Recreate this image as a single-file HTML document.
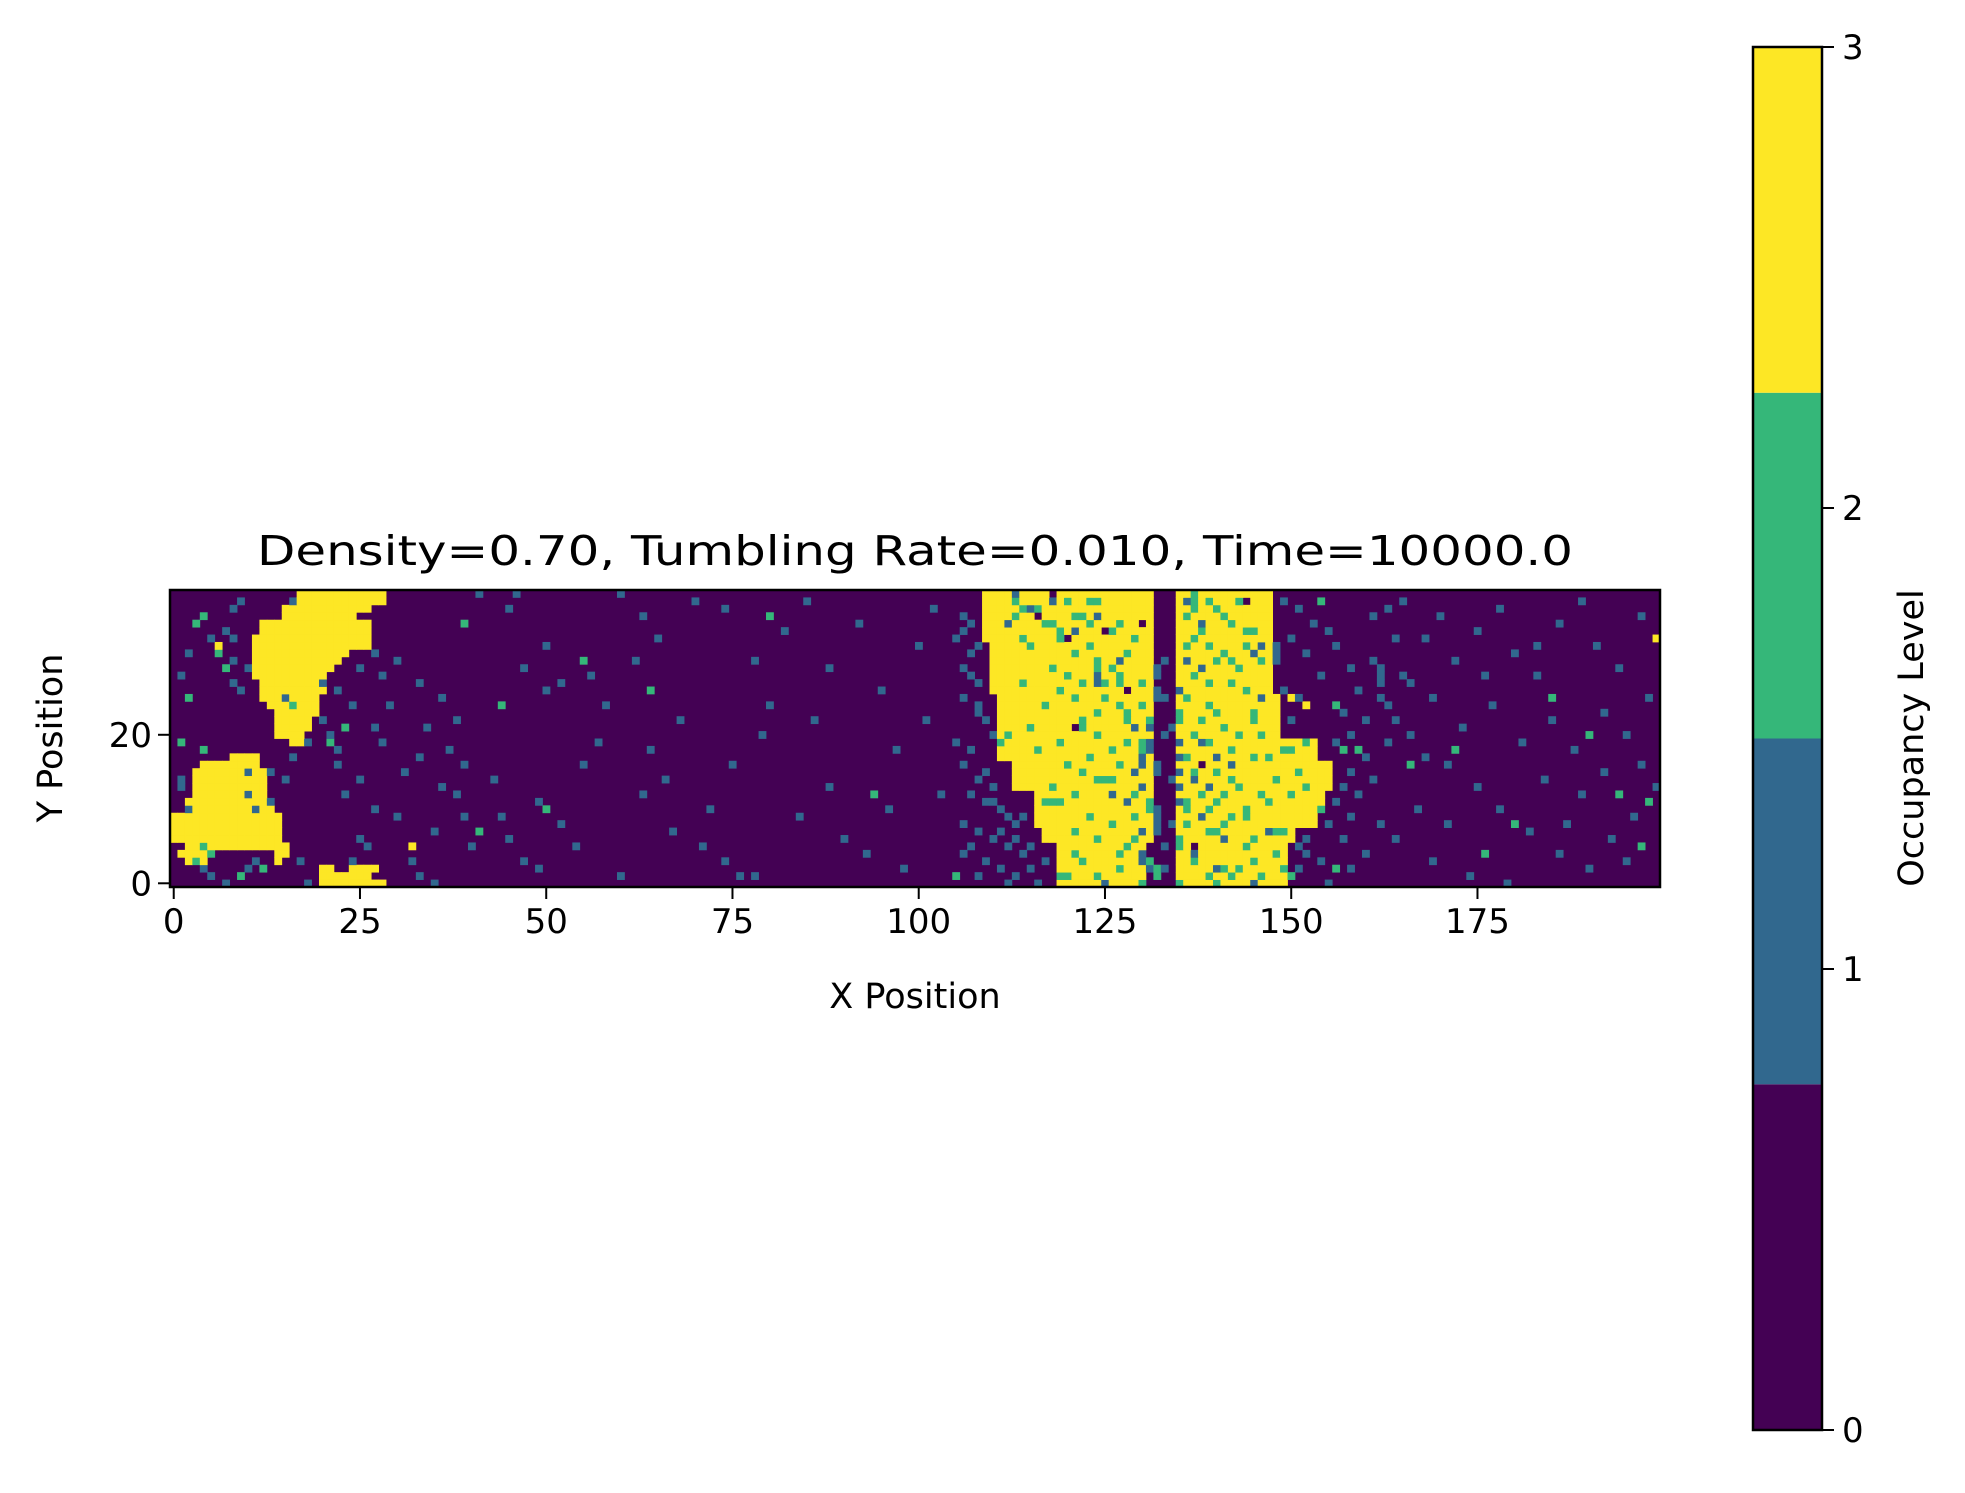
<!DOCTYPE html>
<html><head><meta charset="utf-8"><style>
html,body{margin:0;padding:0;background:#fff;}
svg text{font-family:"DejaVu Sans","Liberation Sans",sans-serif;fill:#000;}
</style></head><body>
<svg id="chart" width="1965" height="1488" viewBox="0 0 1965 1488" xmlns="http://www.w3.org/2000/svg">
<rect width="1965" height="1488" fill="#fff"/>
<text x="915" y="565" font-size="41" text-anchor="middle" textLength="1316" lengthAdjust="spacingAndGlyphs">Density=0.70, Tumbling Rate=0.010, Time=10000.0</text>
<g id="cells"></g>
<rect x="170" y="590" width="1490" height="297" fill="none" stroke="#000" stroke-width="2.5"/>
<g id="axes"></g>
<text x="915" y="1008" font-size="35" text-anchor="middle">X Position</text>
<text transform="translate(62,738) rotate(-90)" font-size="35" text-anchor="middle">Y Position</text>
<g id="cbar"></g>
<text transform="translate(1923,738) rotate(-90)" font-size="35" text-anchor="middle">Occupancy Level</text>
</svg>
<script>
const NX = 200, NY = 40;
const xTicks = [0,25,50,75,100,125,150,175];
const yTicks = [0,20];
const cbarTicks = [0,1,2,3];
const palette = ["#440154","#31688e","#35b779","#fde725"];
// yellow spans [y, x0, x1]
const yellowSpans = [
[17,8,11],[16,4,11],[15,3,12],[14,3,12],[13,3,12],[12,3,12],[11,2,13],[10,2,13],[9,0,14],[8,0,14],[7,0,14],[6,0,14],[5,2,15],[4,14,15],[3,14,14],[4,1,5],[3,2,4],
[2,20,21],[2,24,27],[1,20,26],[0,20,28],
[39,17,28],[38,16,28],[37,15,26],[36,15,24],[35,12,26],[34,12,26],[33,11,26],[32,11,26],[31,11,23],[30,11,22],[29,11,21],[28,11,20],[27,12,20],[26,12,20],[25,12,19],[24,13,19],[23,14,19],[22,14,18],[21,14,18],[20,14,17],[19,16,17]
];
// row groups for the two right bands: [yTop, yBottom, cx0, cx1, dx0, dx1]
const bandRows = [
[39,33,109,131,135,147],[32,26,110,131,135,147],[25,20,111,131,135,148],[19,17,111,131,135,153],
[16,13,113,131,135,155],[12,10,116,131,135,154],[9,8,116,131,135,153],[7,6,117,131,135,150],[5,0,119,130,135,149]
];
const blueCells = [
[113,38],[113,39],[115,37],[118,38],[124,36],[121,34],[112,35],[136,38],[138,35],[145,31],[146,32],[148,31],[148,32],[127,30],[124,27],[124,28],[132,28],[132,29],[132,26],[132,25],[133,25],[135,26],[136,30],[138,29],[146,25],[129,21],[131,21],[134,21],[131,19],[131,18],[130,17],[130,16],[129,15],[132,16],[132,15],[135,19],[135,17],[135,15],[135,13],[137,14],[140,17],[138,19],[142,16],[126,12],[128,11],[130,13],[132,10],[132,9],[132,8],[132,7],[135,11],[134,8],[138,9],[139,13],[130,3],[130,4],[130,7],[131,2],[133,2],[137,4],[140,2],[141,6],[145,0],[125,0],[147,7],[133,30],[133,20],[134,14],[133,5],
[106,36],[107,35],[105,33],[106,34],[107,31],[108,32],[106,29],[107,28],[108,27],[106,25],[108,24],[108,23],[109,22],[105,19],[107,18],[110,20],[106,16],[109,15],[108,14],[110,13],[107,12],[109,11],[111,10],[112,9],[106,8],[108,7],[111,7],[113,8],[110,6],[107,5],[112,5],[114,4],[106,4],[109,3],[111,2],[115,2],[108,1],[113,1],[112,0],[116,0],[117,3],[115,5],[114,9],[113,6],[110,11],
[149,38],[151,37],[153,35],[150,33],[155,34],[156,32],[152,31],[148,30],[158,29],[154,28],[149,26],[151,25],[159,26],[157,23],[150,22],[158,20],[156,19],[160,17],[158,15],[157,13],[159,12],[156,11],[158,9],[155,8],[152,6],[157,6],[151,5],[152,4],[154,3],[151,2],[150,1],[155,0],[158,2],[160,4],[162,8],[161,14],[163,19],[160,22],[162,25],[161,30],[164,33],[163,37],[162,27],[162,28],[162,29],
[9,38],[16,38],[8,37],[7,34],[5,33],[8,33],[2,31],[8,30],[10,29],[1,28],[8,27],[9,26],[15,25],[20,27],[22,26],[25,29],[27,31],[28,28],[30,30],[29,24],[27,21],[28,19],[33,27],[36,25],[34,21],[38,22],[37,18],[39,16],[36,13],[38,12],[39,9],[35,7],[40,5],[32,3],[33,1],[35,0],[18,0],[17,3],[24,3],[22,16],[25,14],[23,12],[27,10],[31,15],[33,17],[30,9],[25,6],[26,5],[21,20],[22,18],[20,22],[24,24],[10,15],[1,14],[1,13],[2,10],[11,10],[10,12],[13,11],[16,17],[18,19],[4,2],[5,1],[7,0],[11,3],[10,2],[13,15],[15,14],[45,37],[50,32],[50,26],[52,27],[47,29],[56,28],[58,24],[57,19],[55,16],[49,11],[52,8],[43,14],[44,9],[45,6],[47,3],[49,2],[54,5],[60,1],[62,30],[63,36],[65,33],[68,22],[64,18],[66,14],[63,12],[67,7],[71,5],[74,3],[76,1],[78,1],[72,10],[75,16],[79,20],[80,24],[78,30],[82,34],[85,38],[88,29],[86,22],[88,13],[84,9],[90,6],[93,4],[96,10],[97,18],[95,26],[100,32],[102,37],[98,2],[103,12],[101,22],[92,35],[70,38],[41,39],[46,39],[60,39],[74,37],
[165,38],[170,36],[168,33],[172,30],[175,34],[178,37],[180,31],[183,28],[186,35],[189,38],[191,32],[194,29],[197,36],[198,25],[195,20],[192,23],[188,18],[185,22],[181,19],[177,24],[173,21],[169,25],[166,27],[171,16],[175,13],[178,10],[182,7],[186,4],[190,2],[193,6],[196,9],[199,13],[197,16],[189,12],[184,14],[167,10],[164,6],[169,3],[174,1],[179,0],[187,8],[192,15],[176,28],[183,32],[161,36],[165,28],[163,24],[164,22],[166,20],[168,17],[171,8],[195,3]
];
const greenCells = [
[113,38],[120,38],[123,38],[124,38],[113,36],[117,35],[118,35],[123,35],[119,33],[119,34],[126,34],[137,37],[137,38],[137,39],[139,38],[141,36],[144,34],[145,34],[136,32],[137,33],[140,30],[142,30],[143,29],[124,29],[124,30],[126,29],[114,27],[119,26],[122,27],[125,27],[127,27],[130,27],[125,25],[127,24],[122,21],[122,22],[128,22],[128,23],[131,22],[135,22],[135,23],[139,24],[140,23],[145,23],[145,22],[115,21],[112,20],[111,19],[126,18],[123,17],[120,16],[122,15],[124,14],[125,14],[126,14],[130,18],[130,19],[136,17],[137,15],[140,15],[142,14],[147,17],[149,18],[148,14],[152,13],[141,12],[146,12],[136,10],[136,11],[142,9],[144,9],[144,10],[154,10],[117,11],[118,11],[119,11],[129,9],[131,10],[131,11],[139,7],[140,7],[148,7],[149,7],[129,6],[128,5],[135,6],[135,5],[121,4],[127,4],[119,1],[120,1],[141,2],[142,1],[143,2],[145,3],[149,2],[150,1],[135,0],[140,0],[130,0],[131,3],[132,1],[132,2],[105,1],
[114,37],[116,37],[121,36],[122,36],[127,35],[114,33],[115,32],[121,31],[123,32],[128,31],[129,33],[118,29],[120,28],[127,28],[117,24],[121,25],[124,23],[130,24],[119,19],[124,20],[128,19],[116,18],[127,16],[118,13],[121,12],[129,12],[123,9],[126,8],[121,7],[124,6],[122,3],[127,2],[124,1],
[136,36],[138,34],[140,37],[142,35],[143,38],[139,32],[141,31],[144,32],[146,30],[137,28],[139,27],[142,27],[144,26],[136,25],[138,22],[141,21],[143,20],[146,20],[137,20],[139,19],[142,18],[145,17],[138,12],[140,11],[143,13],[147,11],[150,12],[151,15],[136,8],[139,10],[141,8],[145,6],[137,3],[139,1],[144,5],[146,1],[148,4],
[154,38],[156,24],[157,18],[152,19],[150,18],[159,18],[156,2],
[3,35],[6,31],[2,25],[4,36],[7,29],[1,19],[4,18],[16,24],[21,19],[23,21],[39,35],[44,24],[9,1],[12,2],[3,3],[5,4],[4,5],[41,7],[50,10],[64,26],[80,36],[94,12],[55,30],
[166,16],[172,18],[180,8],[194,12],[197,5],[198,11],[185,25],[190,20],[176,4]
];
const yellowCells = [[6,32],[32,5],[199,33],[150,25],[152,24]];
const purpleCells = [[120,33],[116,36],[118,39],[128,26],[138,16],[137,5],[121,21],[125,34],[144,38],[130,35]];

// axis functions
const X0 = 170, X1 = 1660, Y0 = 887, Y1 = 590;
const xs = v => X0 + (v + 0.5) / NX * (X1 - X0);
const ys = v => Y0 - (v + 0.5) / NY * (Y0 - Y1);
const NS = "http://www.w3.org/2000/svg";
function mk(tag, attrs, parent) { const e = document.createElementNS(NS, tag); for (const k in attrs) e.setAttribute(k, attrs[k]); parent.appendChild(e); return e; }

const grid = [];
for (let y = 0; y < NY; y++) { grid.push(new Array(NX).fill(0)); }
yellowSpans.forEach(s => { for (let x = s[1]; x <= s[2]; x++) grid[s[0]][x] = 3; });
bandRows.forEach(b => { for (let y = b[1]; y <= b[0]; y++) { for (let x = b[2]; x <= b[3]; x++) grid[y][x] = 3; for (let x = b[4]; x <= b[5]; x++) grid[y][x] = 3; } });
blueCells.forEach(c => { if (c[0] < NX && c[1] < NY) grid[c[1]][c[0]] = 1; });
greenCells.forEach(c => { if (c[0] < NX && c[1] < NY) grid[c[1]][c[0]] = 2; });
yellowCells.forEach(c => { grid[c[1]][c[0]] = 3; });
purpleCells.forEach(c => { grid[c[1]][c[0]] = 0; });

const cellsG = document.getElementById('cells');
const cw = xs(1) - xs(0), ch = ys(0) - ys(1);
mk('rect', {x: X0, y: Y1, width: X1 - X0, height: Y0 - Y1, fill: palette[0]}, cellsG);
for (let y = 0; y < NY; y++) for (let x = 0; x < NX; x++) {
  const v = grid[y][x];
  if (v === 0) continue;
  const r = mk('rect', {x: (xs(x) - cw / 2).toFixed(2), y: (ys(y) - ch / 2).toFixed(2), width: (cw + 0.4).toFixed(2), height: (ch + 0.4).toFixed(2), fill: palette[v]}, cellsG);
  
  
}

const axesG = document.getElementById('axes');
xTicks.forEach(t => {
  const l = mk('line', {x1: xs(t), x2: xs(t), y1: Y0, y2: Y0 + 12, stroke: '#000', 'stroke-width': 2}, axesG);
  
  
  const tx = mk('text', {x: xs(t), y: Y0 + 46, 'font-size': 34, 'text-anchor': 'middle'}, axesG);
  tx.textContent = t;
  
  
});
yTicks.forEach(t => {
  const l = mk('line', {x1: X0 - 12, x2: X0, y1: ys(t), y2: ys(t), stroke: '#000', 'stroke-width': 2}, axesG);
  
  
  const tx = mk('text', {x: X0 - 18, y: ys(t) + 12, 'font-size': 34, 'text-anchor': 'end'}, axesG);
  tx.textContent = t;
  
  
});

// colorbar
const CB = {x: 1753, w: 69, top: 47, bot: 1430};
const cbY = v => CB.bot - v / 3 * (CB.bot - CB.top);
const cbarG = document.getElementById('cbar');
for (let i = 0; i < 4; i++) {
  const r = mk('rect', {x: CB.x, y: cbY((i + 1) * 0.75), width: CB.w, height: cbY(i * 0.75) - cbY((i + 1) * 0.75), fill: palette[i]}, cbarG);
  
  
}
mk('rect', {x: CB.x, y: CB.top, width: CB.w, height: CB.bot - CB.top, fill: 'none', stroke: '#000', 'stroke-width': 2.5}, cbarG);
cbarTicks.forEach(t => {
  const l = mk('line', {x1: CB.x + CB.w, x2: CB.x + CB.w + 12, y1: cbY(t), y2: cbY(t), stroke: '#000', 'stroke-width': 2}, cbarG);
  
  
  const tx = mk('text', {x: CB.x + CB.w + 20, y: cbY(t) + 12, 'font-size': 34}, cbarG);
  tx.textContent = t;
  
  
});
</script>
</body></html>
